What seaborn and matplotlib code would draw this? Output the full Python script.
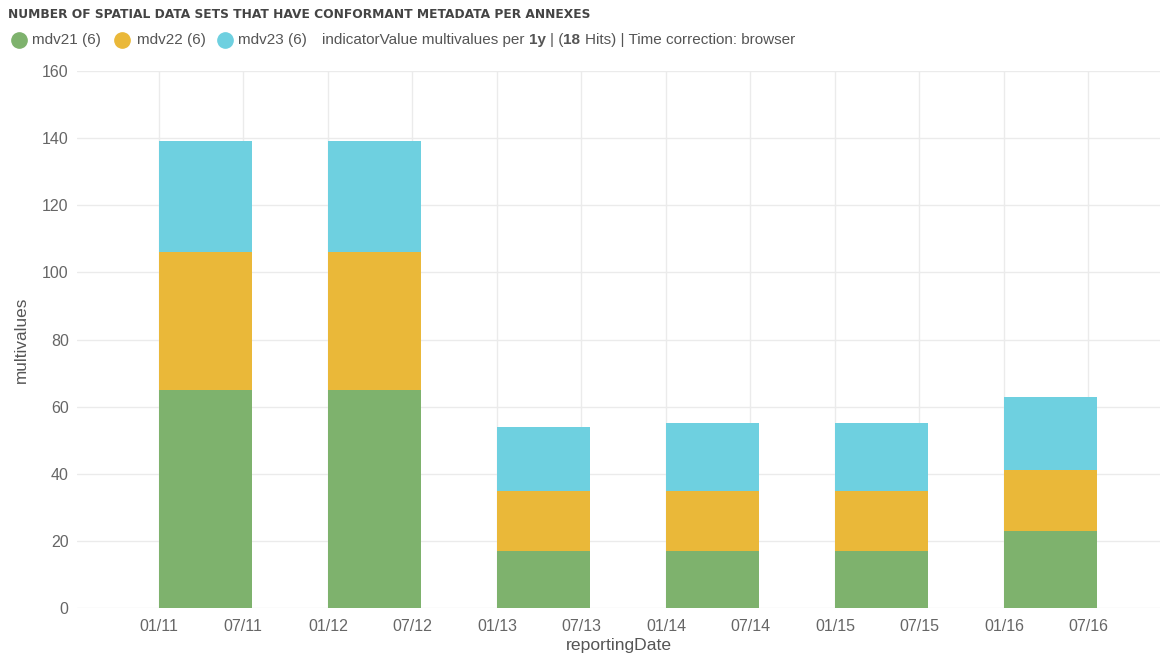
import numpy as np
import pandas as pd
import matplotlib
matplotlib.use("Agg")
import matplotlib.pyplot as plt
from matplotlib.lines import Line2D
import seaborn as sns

# ---- data ----
years = [2011, 2012, 2013, 2014, 2015, 2016]
mdv21 = [65, 65, 17, 17, 17, 23]
mdv22 = [41, 41, 18, 18, 18, 18]
mdv23 = [33, 33, 19, 20, 20, 22]
series_names = ["mdv21 (6)", "mdv22 (6)", "mdv23 (6)"]
colors = ["#7EB26D", "#EAB839", "#6ED0E0"]
tick_labels = ["01/11", "07/11", "01/12", "07/12", "01/13", "07/13",
               "01/14", "07/14", "01/15", "07/15", "01/16", "07/16"]
title = "NUMBER OF SPATIAL DATA SETS THAT HAVE CONFORMANT METADATA PER ANNEXES"

sns.set_theme(style="white")
plt.rcParams["font.family"] = ["Liberation Sans", "DejaVu Sans"]

bar_frac = 0.55
df = pd.DataFrame({
    "x": [y + bar_frac / 2 for y in years],
    "s1": mdv21,
    "s12": np.array(mdv21) + np.array(mdv22),
    "s123": np.array(mdv21) + np.array(mdv22) + np.array(mdv23),
})

W, H = 1162, 666
fig = plt.figure(figsize=(W / 100, H / 100), dpi=100)
ax = fig.add_axes([77 / W, 1 - 608 / H, (1160 - 77) / W, (608 - 71) / H])

for col, c in zip(["s123", "s12", "s1"], colors[::-1]):
    sns.barplot(data=df, x="x", y=col, native_scale=True, width=bar_frac,
                color=c, saturation=1, linewidth=0, ax=ax, errorbar=None)

half = 181 / 365
tick_pos = []
for y in years:
    tick_pos += [y, y + half]
ax.set_xticks(tick_pos)
ax.set_xticklabels(tick_labels)
ax.set_xlim(2010.515, 2016.92)
ax.set_ylim(0, 160)
ax.set_yticks(np.arange(0, 161, 20))

ax.grid(True, color="#ebebeb", linewidth=1)
ax.set_axisbelow(True)
for s in ax.spines.values():
    s.set_visible(False)
ax.tick_params(axis="both", length=0, labelsize=11.5, labelcolor="#666666")
ax.tick_params(axis="x", pad=8)
ax.tick_params(axis="y", pad=6)
ax.set_xlabel("reportingDate", fontsize=12.6, color="#555555", labelpad=3)
ax.set_ylabel("multivalues", fontsize=12.3, color="#555555", labelpad=9)

fig.canvas.draw()
renderer = fig.canvas.get_renderer()

# title, fitted to the reference width
t = fig.text(8 / W, 1 - 15 / H, title, fontsize=8, fontweight="bold", color="#444444",
             va="center", ha="left", family="DejaVu Sans")
wpx = t.get_window_extent(renderer=renderer).width
t.set_fontsize(8 * 585 / wpx)

# legend row
ly = 1 - 40 / H
fs = 11
for cx, tx, name, c in zip([19, 122, 225], [32, 137, 238], series_names, colors):
    fig.add_artist(Line2D([cx / W], [ly], marker="o", markersize=11, color=c,
                          linestyle="none", transform=fig.transFigure))
    fig.text(tx / W, ly, name, fontsize=fs, color="#555555", va="center", ha="left")

pieces = [("indicatorValue multivalues per ", "normal"), ("1y", "bold"),
          (" | (", "normal"), ("18", "bold"),
          (" Hits) | Time correction: browser", "normal")]
probe = fig.text(0, 0, "a a", fontsize=fs)
probe2 = fig.text(0, 0, "aa", fontsize=fs)
space_w = (probe.get_window_extent(renderer=renderer).width
           - probe2.get_window_extent(renderer=renderer).width)
probe.remove()
probe2.remove()
xpix = 322
for txt, w in pieces:
    lead = len(txt) - len(txt.lstrip())
    trail = len(txt) - len(txt.rstrip())
    xpix += lead * space_w
    tt = fig.text(xpix / W, ly, txt.strip(), fontsize=fs, color="#555555", va="center",
                  ha="left", fontweight=w)
    xpix += tt.get_window_extent(renderer=renderer).width + trail * space_w

fig.savefig("out.png", dpi=100)
